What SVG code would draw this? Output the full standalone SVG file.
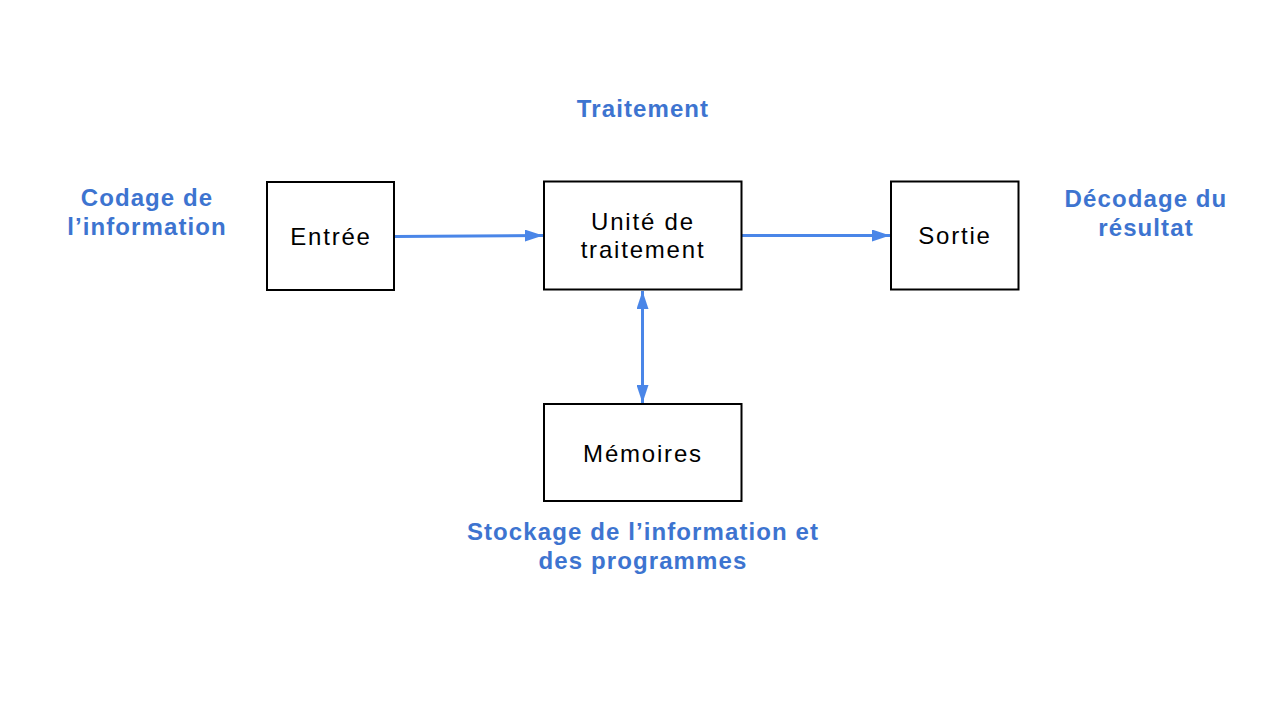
<svg xmlns="http://www.w3.org/2000/svg" width="1280" height="720" viewBox="0 0 1280 720">
<style>
.box{fill:#ffffff;stroke:#000000;stroke-width:2}
.nt{font-family:"Liberation Sans",Arial,sans-serif;font-size:24px;letter-spacing:1.8px;fill:#000000;text-anchor:middle}
.lb{font-family:"Liberation Sans",Arial,sans-serif;font-size:24px;letter-spacing:1.1px;font-weight:bold;fill:#3d74d0;text-anchor:middle}
.cn{stroke:#4a86e8;stroke-width:3;fill:none}
</style>
<defs>
<marker id="ah" viewBox="0 0 18 12" refX="18" refY="6" markerWidth="18" markerHeight="12" markerUnits="userSpaceOnUse" orient="auto-start-reverse">
<path d="M0,0 L18,6 L0,12 Z" fill="#4a86e8"/>
</marker>
</defs>
<rect width="1280" height="720" fill="#ffffff"/>
<g id="labels">
<text class="lb" x="643" y="117">Traitement</text>
<text class="lb" x="147" y="206">Codage de</text>
<text class="lb" x="147" y="235">l’information</text>
<text class="lb" x="1146" y="207">Décodage du</text>
<text class="lb" x="1146" y="236">résultat</text>
<text class="lb" x="643" y="540">Stockage de l’information et</text>
<text class="lb" x="643" y="569">des programmes</text>
</g>
<g id="connectors">
<line class="cn" x1="395" y1="236.5" x2="543" y2="235.5" marker-end="url(#ah)"/>
<line class="cn" x1="742" y1="235.5" x2="890" y2="235.5" marker-end="url(#ah)"/>
<line class="cn" x1="642.5" y1="291" x2="642.5" y2="403" marker-start="url(#ah)" marker-end="url(#ah)"/>
</g>
<g id="entree">
<rect class="box" x="267" y="182" width="127" height="108"/>
<text class="nt" x="331" y="245">Entrée</text>
</g>
<g id="unite">
<rect class="box" x="544" y="181.5" width="197.5" height="108"/>
<text class="nt" x="643" y="230">Unité de</text>
<text class="nt" x="643" y="258">traitement</text>
</g>
<g id="sortie">
<rect class="box" x="891" y="181.5" width="127.5" height="108"/>
<text class="nt" x="955" y="244">Sortie</text>
</g>
<g id="memoires">
<rect class="box" x="544" y="404" width="197.5" height="97"/>
<text class="nt" x="643" y="462">Mémoires</text>
</g>
</svg>
